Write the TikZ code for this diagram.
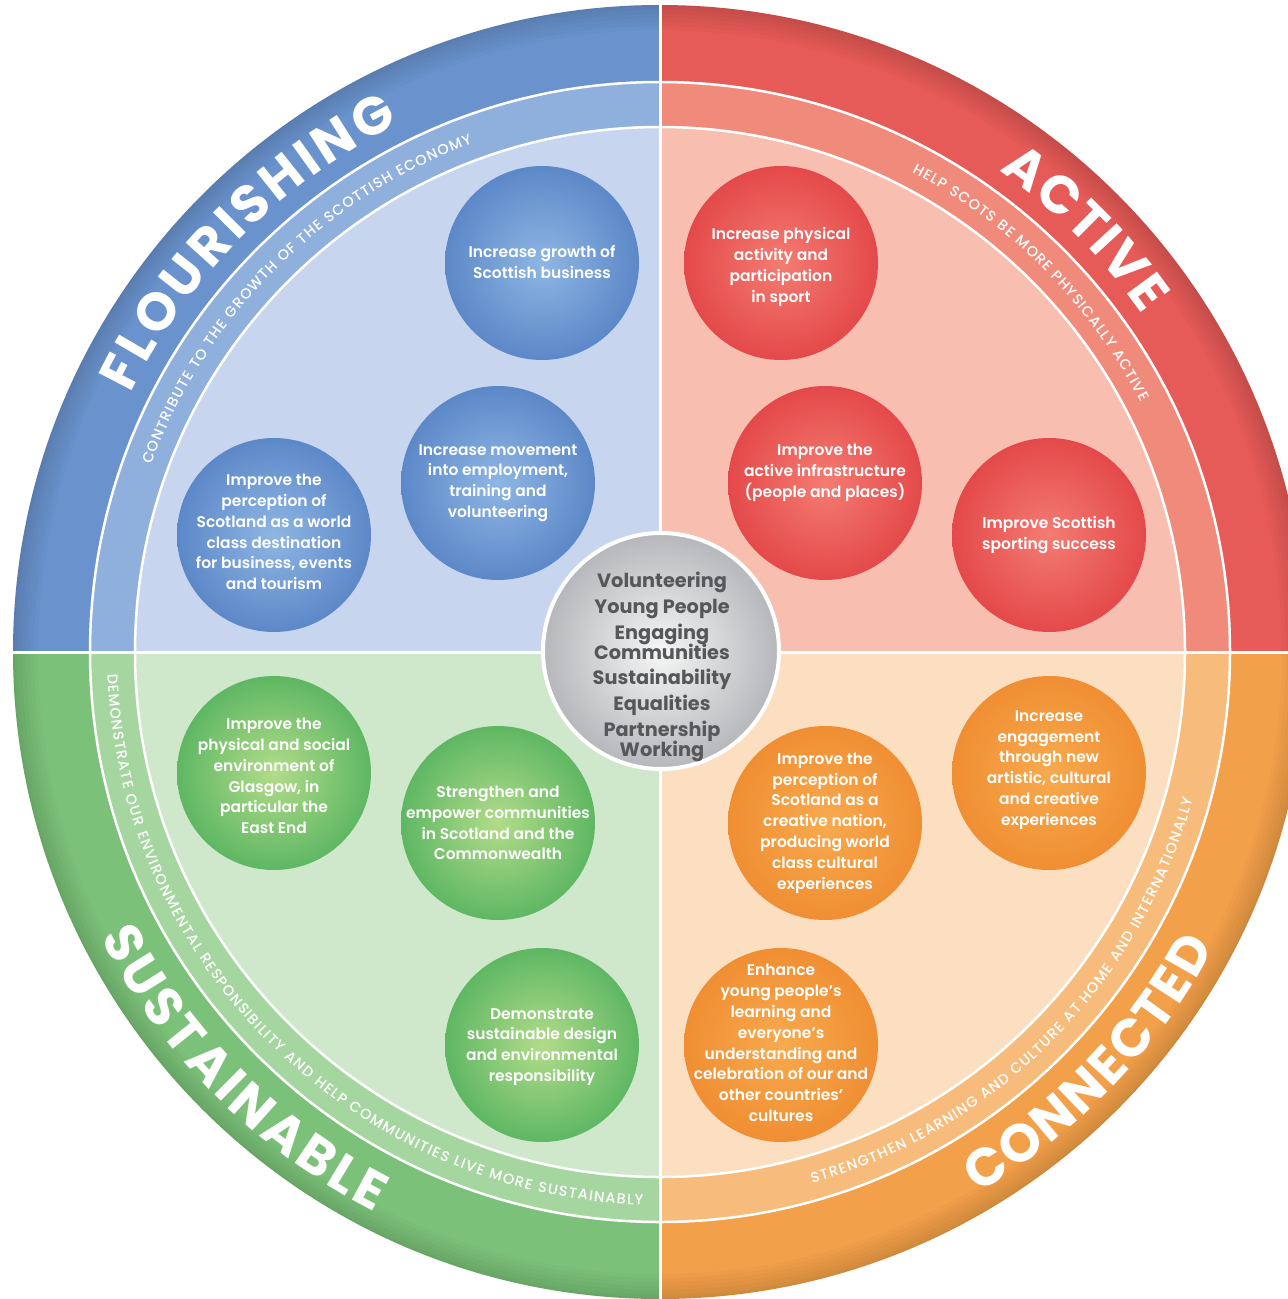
\documentclass[tikz,border=0pt]{standalone}
\usepackage{fontspec}
\setmainfont{Poppins}
\IfFontExistsTF{Poppins SemiBold}{\newfontfamily\bubfont{Poppins SemiBold}}{%
  \IfFontExistsTF{Poppins Medium}{\newfontfamily\bubfont{Poppins Medium}[FakeBold=0.8]}{\newfontfamily\bubfont{Poppins}[FakeBold=1.4]}}
\IfFontExistsTF{Poppins Medium}{\newfontfamily\subfam{Poppins Medium}}{\newfontfamily\subfam{Poppins}[FakeBold=0.8]}
\usetikzlibrary{decorations.text}
\definecolor{bluedark}{HTML}{6A92CC}
\definecolor{bluemid}{HTML}{8FAFDD}
\definecolor{bluelight}{HTML}{C8D5EE}
\definecolor{reddark}{HTML}{E65A57}
\definecolor{redmid}{HTML}{F08B7C}
\definecolor{redlight}{HTML}{F8BEB0}
\definecolor{greendark}{HTML}{7CC17A}
\definecolor{greenmid}{HTML}{A5D6A0}
\definecolor{greenlight}{HTML}{CFE7CA}
\definecolor{orangedark}{HTML}{F2A04A}
\definecolor{orangemid}{HTML}{F7BC7C}
\definecolor{orangelight}{HTML}{FCDFC0}
\definecolor{bbA}{HTML}{8EB6E3}
\definecolor{bbB}{HTML}{5D88C8}
\definecolor{brA}{HTML}{F47C72}
\definecolor{brB}{HTML}{E4494A}
\definecolor{bgA}{HTML}{B2DC8A}
\definecolor{bgB}{HTML}{5FB763}
\definecolor{boA}{HTML}{F8AA4E}
\definecolor{boB}{HTML}{F08E33}
\definecolor{coreA}{HTML}{F6F6F6}
\definecolor{coreB}{HTML}{B5B7BA}
\definecolor{coretext}{HTML}{55575A}
\newcommand\ttlfont{\bfseries\fontsize{53}{53}\selectfont}
\newcommand\subfont{\subfam\fontsize{14.5}{14.5}\selectfont}
\newcommand\corefont{\bfseries\fontsize{19.3}{20}\selectfont\lineskiplimit=-100pt\relax}
\tikzset{
  bubble/.style={circle, minimum size=194pt, inner sep=0pt},
  bblue/.style={bubble, inner color=bbA, outer color=bbB},
  bred/.style={bubble, inner color=brA, outer color=brB},
  bgreen/.style={bubble, inner color=bgA, outer color=bgB},
  borange/.style={bubble, inner color=boA, outer color=boB},
  btext/.style={text=white, align=center, inner sep=0pt, font=\bubfont\fontsize{15.5}{20.8}\selectfont},
  ringline/.style={white, line width=2.5pt},
  divider/.style={white, line width=3pt},
}
\begin{document}
\begin{tikzpicture}[x=1pt,y=1pt]
\useasboundingbox (0,0) rectangle (1288,-1299);
\clip (0,0) rectangle (1288,-1299);
\coordinate (C) at (660,-652);
% quadrants
\foreach \col/\a in {blue/90, red/0, green/180, orange/270}{
  \fill[\col dark] (C) -- ([shift={(\a:647)}]C) arc[start angle=\a, end angle=\a+90, radius=647] -- cycle;
  \fill[\col mid] (C) -- ([shift={(\a:570)}]C) arc[start angle=\a, end angle=\a+90, radius=570] -- cycle;
  \fill[\col light] (C) -- ([shift={(\a:525)}]C) arc[start angle=\a, end angle=\a+90, radius=525] -- cycle;
}
% edge darkening
\begin{scope}
  \clip (C) circle[radius=647];
  \foreach \w in {50,42,34,26,18,10,4}{
    \draw[black, opacity=0.018, line width=\w pt] (C) circle[radius=647];
  }
\end{scope}
% white rings and dividers
\draw[ringline] (C) circle[radius=570];
\draw[ringline] (C) circle[radius=525];
\draw[divider] ([yshift=650pt]C) -- ([yshift=-650pt]C);
\draw[divider] ([xshift=-650pt]C) -- ([xshift=650pt]C);
% titles
\path[decorate, decoration={text along path, text align={fit to path}, text color=white, text={|\ttlfont|FLOURISHING}}]
  ([shift={(154:589)}]C) arc[start angle=154, end angle=116.3, radius=589];
\path[decorate, decoration={text along path, text align={fit to path}, text color=white, text={|\ttlfont|ACTIVE}}]
  ([shift={(54.8:589)}]C) arc[start angle=54.8, end angle=35, radius=589];
\path[decorate, decoration={text along path, text align={fit to path}, text color=white, text={|\ttlfont|SUSTAINABLE}}]
  ([shift={(207:628)}]C) arc[start angle=207, end angle=243, radius=628];
\path[decorate, decoration={text along path, text align={fit to path}, text color=white, text={|\ttlfont|CONNECTED}}]
  ([shift={(300.5:628)}]C) arc[start angle=300.5, end angle=332, radius=628];
% subtitles
\path[decorate, decoration={text along path, text align={fit to path}, text color=white, text={|\subfont|CONTRIBUTE TO THE GROWTH OF THE SCOTTISH ECONOMY}}]
  ([shift={(159.8:542)}]C) arc[start angle=159.8, end angle=110.3, radius=542];
\path[decorate, decoration={text along path, text align={fit to path}, text color=white, text={|\subfont|HELP SCOTS BE MORE PHYSICALLY ACTIVE}}]
  ([shift={(62.3:542)}]C) arc[start angle=62.3, end angle=27.5, radius=542];
\path[decorate, decoration={text along path, text align={fit to path}, text color=white, text={|\subfont|DEMONSTRATE OUR ENVIRONMENTAL RESPONSIBILITY AND HELP COMMUNITIES LIVE MORE SUSTAINABLY}}]
  ([shift={(182.3:553)}]C) arc[start angle=182.3, end angle=268.1, radius=553];
\path[decorate, decoration={text along path, text align={fit to path}, text color=white, text={|\subfont|STRENGTHEN LEARNING AND CULTURE AT HOME AND INTERNATIONALLY}}]
  ([shift={(286:553)}]C) arc[start angle=286, end angle=344.5, radius=553];
% core circle
\node[circle, minimum size=236pt, inner sep=0pt, draw=white, line width=4pt, inner color=coreA, outer color=coreB] (core) at (661,-651) {};
\node[text=coretext, align=center, inner sep=0pt, font=\corefont] (coretxt) at (662,-667)
  {Volunteering\\[5.7pt]Young People\\[5.7pt]Engaging\\Communities\\[5.7pt]Sustainability\\[5.7pt]Equalities\\[5.7pt]Partnership\\Working};
% bubbles
\node[bblue] (b1) at (542,-263) {};
\node[btext] (t1) at ([yshift=1pt]b1.center) {Increase growth of\\Scottish business};
\node[bblue] (b2) at (498,-483) {};
\node[btext] (t2) at (b2.center) {Increase movement\\into employment,\\training and\\volunteering};
\node[bblue] (b3) at (274,-535) {};
\node[btext] (t3) at ([yshift=3pt]b3.center) {Improve the\\perception of\\Scotland as a world\\class destination\\for business, events\\and tourism};
\node[bred] (r1) at (781,-263) {};
\node[btext] (u1) at ([yshift=-4pt]r1.center) {Increase physical\\activity and\\participation\\in sport};
\node[bred] (r2) at (825,-483) {};
\node[btext] (u2) at ([yshift=10pt]r2.center) {Improve the\\active infrastructure\\(people and places)};
\node[bred] (r3) at (1049,-535) {};
\node[btext] (u3) at (r3.center) {Improve Scottish\\sporting success};
\node[bgreen] (g1) at (274,-773) {};
\node[btext] (v1) at ([yshift=-3pt]g1.center) {Improve the\\physical and social\\environment of\\Glasgow, in\\particular the\\East End};
\node[bgreen] (g2) at (498,-823) {};
\node[btext] (v2) at (g2.center) {Strengthen and\\empower communities\\in Scotland and the\\Commonwealth};
\node[bgreen] (g3) at (542,-1045) {};
\node[btext] (v3) at ([yshift=-2pt]g3.center) {Demonstrate\\sustainable design\\and environmental\\responsibility};
\node[borange] (o1) at (1049,-773) {};
\node[btext] (w1) at ([yshift=3pt]o1.center) {Increase\\engagement\\through new\\artistic, cultural\\and creative\\experiences};
\node[borange] (o2) at (825,-823) {};
\node[btext] (w2) at (o2.center) {Improve the\\perception of\\Scotland as a\\creative nation,\\producing world\\class cultural\\experiences};
\node[borange] (o3) at (781,-1045) {};
\node[btext] (w3) at ([yshift=2pt]o3.center) {Enhance\\young people’s\\learning and\\everyone’s\\understanding and\\celebration of our and\\other countries’\\cultures};
\end{tikzpicture}
\end{document}
